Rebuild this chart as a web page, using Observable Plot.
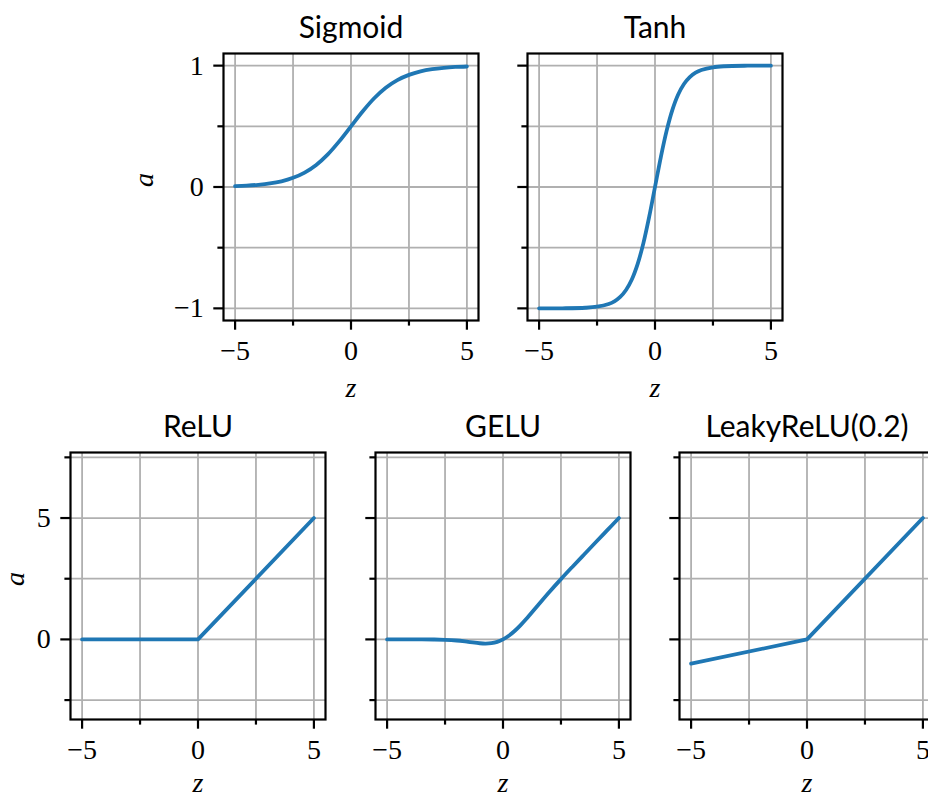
<!DOCTYPE html>
<html><head><meta charset="utf-8">
<script src="https://cdn.jsdelivr.net/npm/d3@7"></script>
<script src="https://cdn.jsdelivr.net/npm/@observablehq/plot@0.6"></script>
<style>
html,body{margin:0;padding:0;background:#fff;}
#fig{position:relative;width:928px;height:796px;overflow:hidden;background:#fff;}
.panel{position:absolute;}
.panel svg{max-width:none !important;}
</style></head><body><div id="fig"></div>
<script>
// ---- data ----
const titles = ["Sigmoid", "Tanh", "ReLU", "GELU", "LeakyReLU(0.2)"];

const sigmoidZ = [-5,-4.5,-4,-3.5,-3,-2.5,-2,-1.5,-1,-0.5,0,0.5,1,1.5,2,2.5,3,3.5,4,4.5,5];
const sigmoidA = [0.007,0.011,0.018,0.029,0.047,0.076,0.119,0.182,0.269,0.378,0.5,0.622,0.731,0.818,0.881,0.924,0.953,0.971,0.982,0.989,0.993];

const tanhZ = [-5,-4,-3,-2.5,-2,-1.75,-1.5,-1.25,-1,-0.75,-0.5,-0.25,0,0.25,0.5,0.75,1,1.25,1.5,1.75,2,2.5,3,4,5];
const tanhA = [-0.9999,-0.9993,-0.9951,-0.9866,-0.964,-0.9414,-0.9051,-0.8483,-0.7616,-0.6351,-0.4621,-0.2449,0,0.2449,0.4621,0.6351,0.7616,0.8483,0.9051,0.9414,0.964,0.9866,0.9951,0.9993,0.9999];

const reluZ = [-5, 0, 5];
const reluA = [0, 0, 5];

const geluZ = [-5,-4.5,-4,-3.5,-3,-2.5,-2,-1.5,-1,-0.75,-0.5,-0.25,0,0.25,0.5,0.75,1,1.5,2,2.5,3,3.5,4,4.5,5];
const geluA = [0,0,-0.0001,-0.0008,-0.004,-0.0155,-0.0455,-0.1002,-0.1587,-0.17,-0.1543,-0.1003,0,0.1497,0.3457,0.58,0.8413,1.3998,1.9545,2.4845,2.996,3.4992,3.9999,4.5,5];

const leakyZ = [-5, 0, 5];
const leakyA = [-1, 0, 5];

const xDomain = [-5.5, 5.5];
const xMajorTicks = [-5, 0, 5];
const xMinorTicks = [-2.5, 2.5];

const topYDomain = [-1.1, 1.1];
const topYMajorTicks = [-1, 0, 1];
const topYMinorTicks = [-0.5, 0.5];

const bottomYDomain = [-3.3, 7.7];
const bottomYMajorTicks = [0, 5];
const bottomYMinorTicks = [-2.5, 2.5, 7.5];

const xLabel = "z";
const yLabel = "a";

// ---- drawing ----
const serif = "'Liberation Serif', 'DejaVu Serif', serif";
const sans = "Lato, 'Noto Sans', sans-serif";
const W = 255, H = 267, ML = 100, MR = 12, MT = 60, MB = 82;
const fmt = d => d < 0 ? "\u2212" + Math.abs(d) : String(d);
const blank = () => "";
const gridStyle = {stroke: "#b0b0b0", strokeOpacity: 1, strokeWidth: 1.8};

function panel(cfg) {
  const data = cfg.z.map((z, i) => ({z, a: cfg.a[i]}));
  const yTicksAll = [...cfg.yMajor, ...cfg.yMinor];
  const marks = [
    Plot.gridX([...xMajorTicks, ...xMinorTicks], gridStyle),
    Plot.gridY(yTicksAll, gridStyle),
    Plot.line(data, {x: "z", y: "a", stroke: "#1f77b4", strokeWidth: 3.8, curve: cfg.curve, strokeLinejoin: "round"}),
    Plot.frame({stroke: "#000", strokeWidth: 2.2}),
    Plot.axisX(xMajorTicks, {tickSize: 9.7, tickPadding: 10, tickFormat: fmt, fontSize: 28, fontFamily: serif, stroke: "#000", strokeWidth: 2.2, label: null}),
    Plot.axisX(xMinorTicks, {tickSize: 5.6, tickFormat: blank, stroke: "#000", strokeWidth: 2.2, label: null}),
    Plot.axisY(cfg.yMajor, {tickSize: 9.7, tickPadding: 10, tickFormat: cfg.yLabels ? fmt : blank, fontSize: 28, fontFamily: serif, stroke: "#000", strokeWidth: 2.2, label: null}),
    Plot.axisY(cfg.yMinor, {tickSize: 5.6, tickFormat: blank, stroke: "#000", strokeWidth: 2.2, label: null}),
    Plot.text([cfg.title], {frameAnchor: "top", dy: -16, lineAnchor: "bottom", fontSize: 30, fontFamily: sans, fill: "#000"}),
    Plot.text([xLabel], {frameAnchor: "bottom", dy: cfg.zDy, lineAnchor: "bottom", fontSize: 28, fontStyle: "italic", fontFamily: serif, fill: "#000"})
  ];
  if (cfg.yLabels) {
    marks.push(Plot.text([yLabel], {frameAnchor: "left", dx: cfg.aDx, rotate: -90, fontSize: 28, fontStyle: "italic", fontFamily: serif, fill: "#000"}));
  }
  const w = ML + W + MR, h = MT + H + MB;
  const svg = Plot.plot({
    width: w,
    height: h,
    marginLeft: ML, marginRight: MR, marginTop: MT, marginBottom: MB,
    x: {domain: xDomain, axis: null},
    y: {domain: cfg.yDomain, axis: null},
    style: {background: "transparent", overflow: "visible", fontFamily: serif, maxWidth: "none"},
    marks
  });
  svg.style.width = w + "px";
  svg.style.height = h + "px";
  const div = document.createElement("div");
  div.className = "panel";
  div.style.left = (cfg.left - ML) + "px";
  div.style.top = (cfg.top - MT) + "px";
  div.style.width = w + "px";
  div.style.height = h + "px";
  div.appendChild(svg);
  document.getElementById("fig").appendChild(div);
}

const panels = [
  {title: titles[0], z: sigmoidZ, a: sigmoidA, curve: "catmull-rom", yDomain: topYDomain, yMajor: topYMajorTicks, yMinor: topYMinorTicks, yLabels: true, left: 223, top: 53, aDx: -79, zDy: 76},
  {title: titles[1], z: tanhZ, a: tanhA, curve: "catmull-rom", yDomain: topYDomain, yMajor: topYMajorTicks, yMinor: topYMinorTicks, yLabels: false, left: 527, top: 53, zDy: 76},
  {title: titles[2], z: reluZ, a: reluA, curve: "linear", yDomain: bottomYDomain, yMajor: bottomYMajorTicks, yMinor: bottomYMinorTicks, yLabels: true, left: 70, top: 452, aDx: -55, zDy: 72},
  {title: titles[3], z: geluZ, a: geluA, curve: "catmull-rom", yDomain: bottomYDomain, yMajor: bottomYMajorTicks, yMinor: bottomYMinorTicks, yLabels: false, left: 375, top: 452, zDy: 72},
  {title: titles[4], z: leakyZ, a: leakyA, curve: "linear", yDomain: bottomYDomain, yMajor: bottomYMajorTicks, yMinor: bottomYMinorTicks, yLabels: false, left: 679, top: 452, zDy: 72}
];
panels.forEach(panel);
</script></body></html>
